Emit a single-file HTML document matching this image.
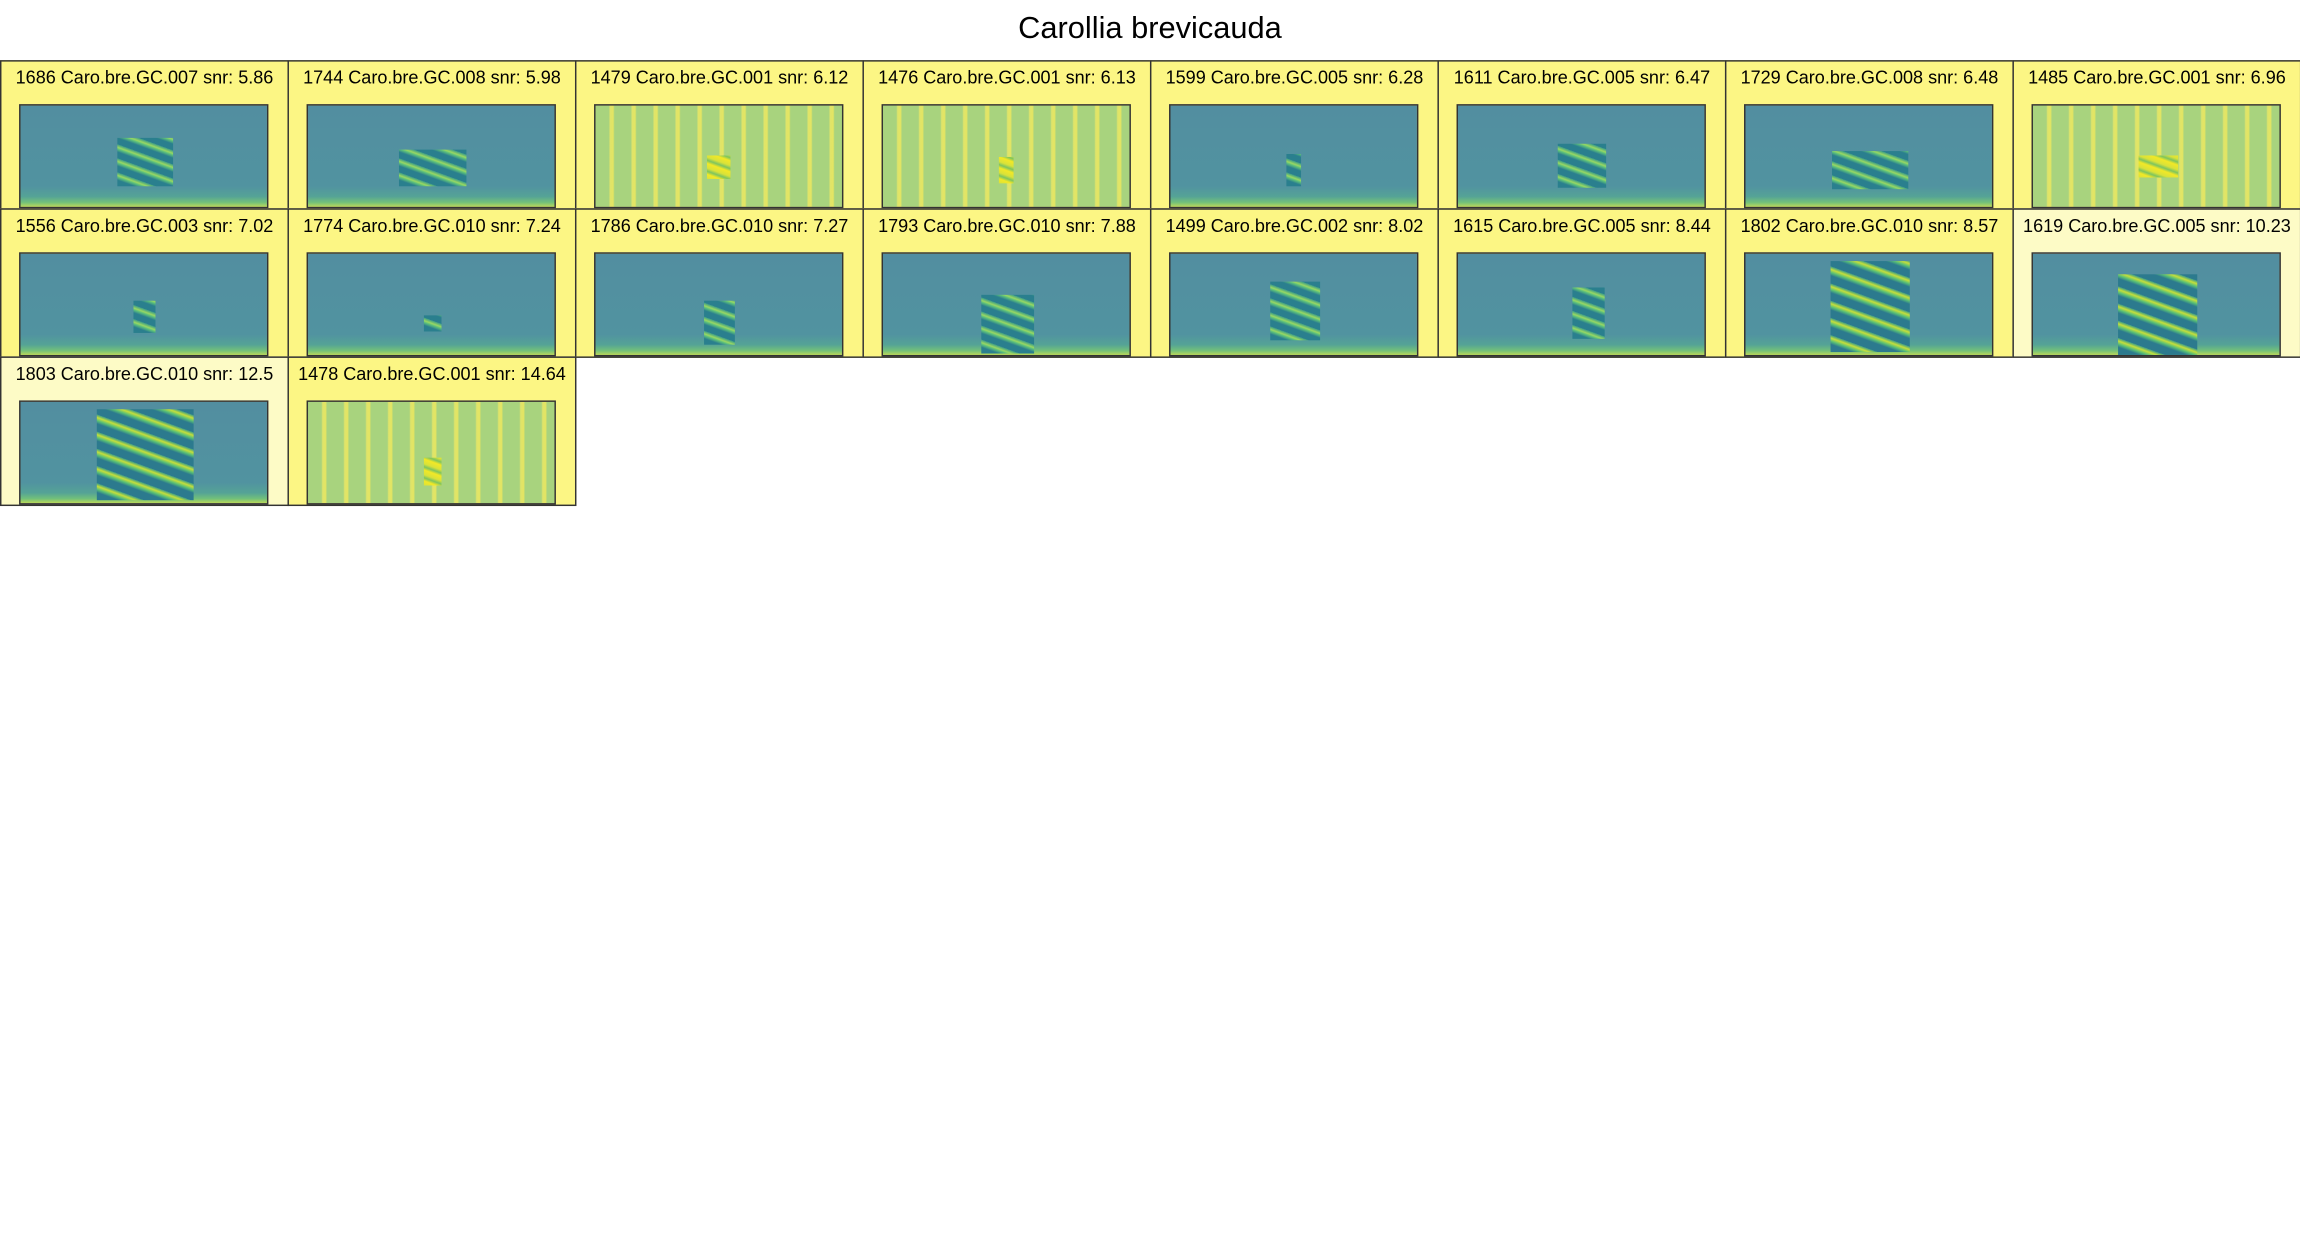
<!DOCTYPE html>
<html><head><meta charset="utf-8"><style>
html,body{margin:0;padding:0;background:#fff;}
body{width:2300px;height:1250px;overflow:hidden;position:relative;font-family:"Liberation Sans",sans-serif;}
#w{position:absolute;left:0;top:0;width:1568px;height:852px;transform:scale(1.4668);transform-origin:0 0;}
h1{position:absolute;left:0;top:8px;width:1568px;margin:0;text-align:center;font-weight:normal;font-size:21px;color:#000;}
.c{position:absolute;width:197px;height:102px;box-sizing:border-box;border:1px solid #333;background:#fcf684;}
.c.l{background:#fdfbc6;}
.t{position:absolute;left:0;top:4px;width:100%;text-align:center;font-size:12.3px;color:#000;white-space:nowrap;}
.s{position:absolute;left:12px;top:29px;width:170px;height:71px;box-sizing:border-box;border:1px solid #333;
background:linear-gradient(to top,#b9d85a 0,#72c07a 3px,#55a396 7px,#5193a0 14px,#528ea0 100%);}
.s.n{background:repeating-linear-gradient(90deg,#a8d37e 0,#a8d37e 9px,#dfe46a 10px,#e4e562 12px,#a8d37e 13px,#a8d37e 15px);}
.p{position:absolute;background:repeating-linear-gradient(20deg,#2a7f8e 0,#2a7f8e 4px,#5fc27a 6px,#9ad862 7px,#3a9b88 9px);}
.p.y{background:repeating-linear-gradient(20deg,#d8e23a 0,#f2e826 3px,#7cc460 5px,#d8e23a 7px);}
.p.b{background:repeating-linear-gradient(20deg,#2c7a8e 0,#2c7a8e 5px,#58bf76 7px,#c6df3a 9px,#3a9b88 11px);}
</style></head><body><div id="w">
<h1>Carollia brevicauda</h1>

<div class="c" style="left:0;top:41px"><div class="t">1686 Caro.bre.GC.007 snr: 5.86</div><div class="s"><div class="p" style="left:66px;top:22px;width:38px;height:33px"></div></div></div>
<div class="c" style="left:196px;top:41px"><div class="t">1744 Caro.bre.GC.008 snr: 5.98</div><div class="s"><div class="p" style="left:62px;top:30px;width:46px;height:25px"></div></div></div>
<div class="c" style="left:392px;top:41px"><div class="t">1479 Caro.bre.GC.001 snr: 6.12</div><div class="s n"><div class="p y" style="left:76px;top:34px;width:16px;height:16px"></div></div></div>
<div class="c" style="left:588px;top:41px"><div class="t">1476 Caro.bre.GC.001 snr: 6.13</div><div class="s n"><div class="p y" style="left:79px;top:35px;width:10px;height:18px"></div></div></div>
<div class="c" style="left:784px;top:41px"><div class="t">1599 Caro.bre.GC.005 snr: 6.28</div><div class="s"><div class="p" style="left:79px;top:33px;width:10px;height:22px"></div></div></div>
<div class="c" style="left:980px;top:41px"><div class="t">1611 Caro.bre.GC.005 snr: 6.47</div><div class="s"><div class="p" style="left:68px;top:26px;width:33px;height:30px"></div></div></div>
<div class="c" style="left:1176px;top:41px"><div class="t">1729 Caro.bre.GC.008 snr: 6.48</div><div class="s"><div class="p" style="left:59px;top:31px;width:52px;height:26px"></div></div></div>
<div class="c" style="left:1372px;top:41px"><div class="t">1485 Caro.bre.GC.001 snr: 6.96</div><div class="s n"><div class="p y" style="left:72px;top:34px;width:27px;height:15px"></div></div></div>

<div class="c" style="left:0;top:142px"><div class="t">1556 Caro.bre.GC.003 snr: 7.02</div><div class="s"><div class="p" style="left:77px;top:32px;width:15px;height:22px"></div></div></div>
<div class="c" style="left:196px;top:142px"><div class="t">1774 Caro.bre.GC.010 snr: 7.24</div><div class="s"><div class="p" style="left:79px;top:42px;width:12px;height:11px"></div></div></div>
<div class="c" style="left:392px;top:142px"><div class="t">1786 Caro.bre.GC.010 snr: 7.27</div><div class="s"><div class="p" style="left:74px;top:32px;width:21px;height:30px"></div></div></div>
<div class="c" style="left:588px;top:142px"><div class="t">1793 Caro.bre.GC.010 snr: 7.88</div><div class="s"><div class="p" style="left:67px;top:28px;width:36px;height:40px"></div></div></div>
<div class="c" style="left:784px;top:142px"><div class="t">1499 Caro.bre.GC.002 snr: 8.02</div><div class="s"><div class="p" style="left:68px;top:19px;width:34px;height:40px"></div></div></div>
<div class="c" style="left:980px;top:142px"><div class="t">1615 Caro.bre.GC.005 snr: 8.44</div><div class="s"><div class="p" style="left:78px;top:23px;width:22px;height:35px"></div></div></div>
<div class="c" style="left:1176px;top:142px"><div class="t">1802 Caro.bre.GC.010 snr: 8.57</div><div class="s"><div class="p b" style="left:58px;top:5px;width:54px;height:62px"></div></div></div>
<div class="c l" style="left:1372px;top:142px"><div class="t">1619 Caro.bre.GC.005 snr: 10.23</div><div class="s"><div class="p b" style="left:58px;top:14px;width:54px;height:55px"></div></div></div>

<div class="c l" style="left:0;top:243px"><div class="t">1803 Caro.bre.GC.010 snr: 12.5</div><div class="s"><div class="p b" style="left:52px;top:5px;width:66px;height:62px"></div></div></div>
<div class="c" style="left:196px;top:243px"><div class="t">1478 Caro.bre.GC.001 snr: 14.64</div><div class="s n"><div class="p y" style="left:79px;top:38px;width:12px;height:19px"></div></div></div>
</div></body></html>
